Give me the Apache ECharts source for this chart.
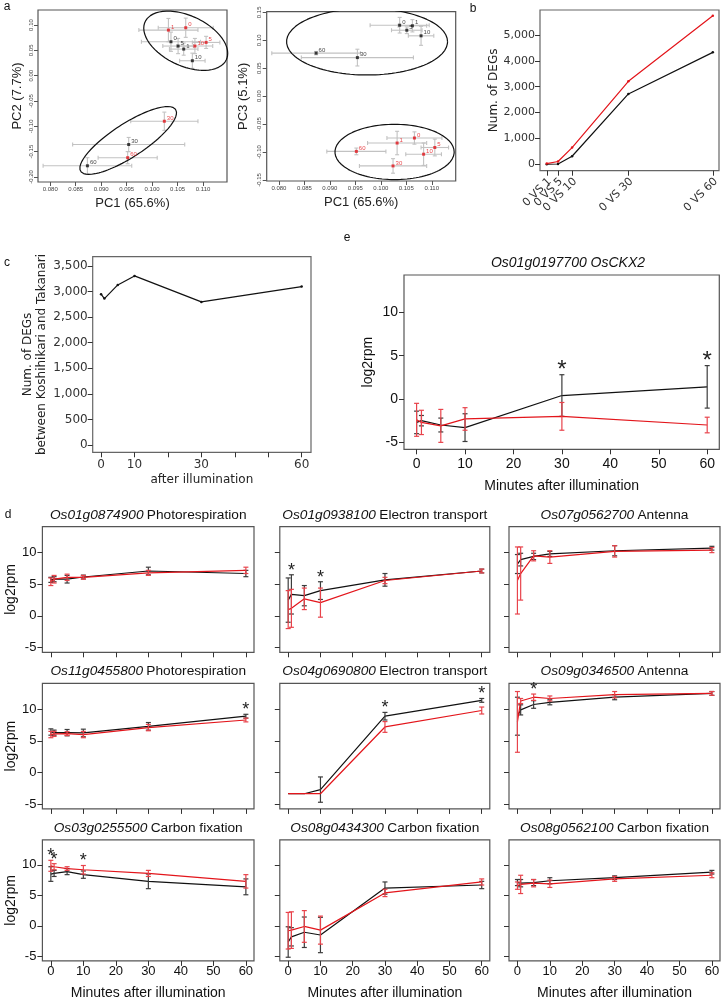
<!DOCTYPE html>
<html><head><meta charset="utf-8">
<script src="https://cdn.jsdelivr.net/npm/echarts@6/dist/echarts.min.js"></script>
<style>html,body{margin:0;padding:0;background:#fff}#c{width:722px;height:1003px}</style>
</head><body><div id="c"></div>
<script>
// ---------------- DATA ----------------
const timeLabels = ['0', '1', '5', '10', '30', '60'];
const minutes = [0, 1, 5, 10, 30, 60];

// panel a (PCA)
const pc1Kosh = [0.1037, 0.1062, 0.1051, 0.1079, 0.0954, 0.0873];
const pc1KoshSd = [0.0058, 0.0028, 0.0030, 0.0025, 0.0110, 0.0087];
const pc2Kosh = [0.067, 0.0525, 0.0585, 0.0295, -0.136, -0.178];
const pc2KoshSd = [0.019, 0.012, 0.015, 0.015, 0.014, 0.016];
const pc3Kosh = [0.127, 0.126, 0.118, 0.108, 0.069, 0.077];
const pc3KoshSd = [0.014, 0.011, 0.006, 0.017, 0.015, 0.003];
const pc1Taka = [0.1066, 0.1032, 0.1106, 0.1084, 0.1024, 0.0952];
const pc1TakaSd = [0.0054, 0.0058, 0.0027, 0.0035, 0.0066, 0.0058];
const pc2Taka = [0.0947, 0.090, 0.0657, 0.0585, -0.090, -0.162];
const pc2TakaSd = [0.019, 0.023, 0.012, 0.015, 0.018, 0.012];
const pc3Taka = [-0.075, -0.084, -0.092, -0.104, -0.125, -0.099];
const pc3TakaSd = [0.011, 0.021, 0.015, 0.020, 0.013, 0.006];
// ellipses: centre x, centre y, semi-axis u (dx, dy), semi-axis v (dx, dy)
const ellipsePC2 = [[0.1066, 0.069, 0.00797, -0.0376, -0.0021, -0.0448], [0.0953, -0.128, 0.00932, 0.0610, 0.00178, -0.0277]];
const ellipsePC3 = [[0.0973, 0.0975, 0.0158, 0, 0, 0.0596], [0.1027, -0.100, 0.0117, 0, 0, 0.0495]];
const aTicksX = [0.080, 0.085, 0.090, 0.095, 0.100, 0.105, 0.110];
const aTicksPC2 = [-0.20, -0.15, -0.10, -0.05, 0.00, 0.05, 0.10];
const aTicksPC3 = [-0.15, -0.10, -0.05, 0.00, 0.05, 0.10, 0.15];

// panel b
const bCompare = [1, 5, 10, 30, 60];
const bCompareLabels = ['0 VS 1', '0 VS 5', '0 VS 10', '0 VS 30', '0 VS 60'];
const bKosh = [0, 10, 310, 2720, 4330];
const bTaka = [25, 105, 645, 3210, 5750];
const bTicksY = [0, 1000, 2000, 3000, 4000, 5000];

// panel c
const cMinutes = [0, 1, 5, 10, 30, 60];
const cDegs = [2948, 2863, 3130, 3306, 2798, 3098];
const cTicksY = [0, 500, 1000, 1500, 2000, 2500, 3000, 3500];
const cTicksX = [0, 10, 20, 30, 40, 50, 60];
const cLabelsX = [0, 10, 30, 60];

// panel e
const eGene = 'Os01g0197700 OsCKX2';
const eKosh = [-2.7, -2.5, -3.0, -3.3, 0.4, 1.4];
const eKoshSd = [1.3, 0.6, 0.8, 1.6, 2.4, 2.45];
const eTaka = [-2.4, -2.7, -3.1, -2.3, -2.0, -3.0];
const eTakaSd = [1.9, 1.4, 1.9, 1.3, 1.6, 0.9];
const eStars = [30, 60];

// panel d
const dGenes = ['Os01g0874900', 'Os01g0938100', 'Os07g0562700', 'Os11g0455800', 'Os04g0690800', 'Os09g0346500', 'Os03g0255500', 'Os08g0434300', 'Os08g0562100'];
const dFunctions = ['Photorespiration', 'Electron transport', 'Antenna', 'Photorespiration', 'Electron transport', 'Antenna', 'Carbon fixation', 'Carbon fixation', 'Carbon fixation'];
const d1Kosh = [5.7, 5.8, 5.8, 6.15, 7.1, 6.7];      const d1KoshSd = [0.4, 0.4, 0.6, 0.3, 0.6, 0.5];
const d1Taka = [5.4, 5.8, 6.1, 6.1, 6.8, 7.2];       const d1TakaSd = [0.6, 0.6, 0.5, 0.3, 0.4, 0.5];
const d2Kosh = [2.5, 3.4, 3.2, 4.0, 5.7, 7.1];       const d2KoshSd = [3.5, 3.1, 1.6, 1.4, 1.0, 0.3];
const d2Taka = [1.0, 1.2, 2.7, 2.1, 5.6, 7.1];       const d2TakaSd = [3.0, 3.0, 1.7, 2.3, 0.5, 0.3];
const d3Kosh = [8.2, 8.9, 9.4, 9.8, 10.3, 10.7];     const d3KoshSd = [1.5, 1.0, 0.5, 0.4, 0.8, 0.3];
const d3Taka = [5.6, 6.7, 9.5, 9.3, 10.2, 10.4];     const d3TakaSd = [5.3, 4.2, 0.8, 1.0, 0.9, 0.4];
const d4Kosh = [6.4, 6.3, 6.3, 6.25, 7.3, 8.9];      const d4KoshSd = [0.5, 0.4, 0.5, 0.6, 0.6, 0.3];
const d4Taka = [6.0, 6.1, 6.15, 6.0, 7.1, 8.3];      const d4TakaSd = [0.5, 0.4, 0.3, 0.5, 0.5, 0.3];
const d5Kosh = [-3.35, -3.35, -3.35, -2.7, 8.9, 11.4]; const d5KoshSd = [0, 0, 0, 2.0, 0.6, 0.3];
const d5Taka = [-3.35, -3.35, -3.35, -3.35, 7.2, 9.8]; const d5TakaSd = [0, 0, 0, 0, 0.85, 0.55];
const d6Kosh = [8.9, 9.9, 10.75, 11.1, 11.9, 12.5];  const d6KoshSd = [3.0, 0.8, 0.6, 0.4, 0.4, 0.3];
const d6Taka = [8.0, 11.3, 11.9, 11.7, 12.3, 12.5];  const d6TakaSd = [4.8, 0.4, 0.5, 0.4, 0.5, 0.3];
const d7Kosh = [8.5, 8.6, 8.9, 8.4, 7.3, 6.4];       const d7KoshSd = [1.2, 0.5, 0.5, 0.6, 1.2, 1.3];
const d7Taka = [9.85, 9.7, 9.4, 9.2, 8.6, 7.3];      const d7TakaSd = [0.9, 0.5, 0.3, 0.7, 0.5, 1.1];
const d8Kosh = [-2.65, -1.8, -1.05, -1.5, 6.2, 6.7]; const d8KoshSd = [2.5, 1.5, 2.5, 2.9, 1.0, 0.6];
const d8Taka = [-0.8, -0.7, -0.1, -0.7, 5.4, 7.2];   const d8TakaSd = [3.0, 3.0, 2.6, 2.3, 0.6, 0.5];
const d9Kosh = [7.1, 7.0, 7.1, 7.4, 7.9, 8.8];       const d9KoshSd = [0.5, 0.6, 0.5, 0.5, 0.3, 0.3];
const d9Taka = [6.6, 6.8, 7.0, 6.9, 7.7, 8.3];       const d9TakaSd = [0.6, 1.5, 0.6, 0.6, 0.4, 0.4];
const d1Stars = [], d2Stars = [1, 10], d3Stars = [], d4Stars = [60], d5Stars = [30, 60], d6Stars = [5], d7Stars = [0, 1, 10], d8Stars = [], d9Stars = [];
const logTicksY = [-5, 0, 5, 10];
const minuteTicks = [0, 10, 20, 30, 40, 50, 60];

// ---------------- STYLE / BUILD ----------------
const FA = 'Liberation Sans, Arial, sans-serif';
const FV = 'DejaVu Sans, Verdana, sans-serif';
const BLACK = '#111', RED = '#e3151b', BLACK_ERR = '#3c3c3c', RED_ERR = '#e8434b', GREY_ERR = '#c2c2c2';

const chart = echarts.init(document.getElementById('c'), null, {renderer: 'canvas', width: 722, height: 1003});
const grids = [], xAxes = [], yAxes = [], series = [], graphics = [];

function addGrid(l, t, w, h, color) {
  grids.push({left: l, top: t, width: w, height: h, show: true, borderColor: color || '#555', borderWidth: 1.2, outerBoundsMode: 'none'});
  return grids.length - 1;
}
function errBars(g, xs, ys, es, color, cap, z) {
  return {type: 'custom', xAxisIndex: g, yAxisIndex: g, silent: true, z: z || 3,
    data: xs.map((x, i) => [x, ys[i], es[i]]),
    renderItem: (p, api) => {
      const x = api.value(0), y = api.value(1), e = api.value(2);
      if (!e) return null;
      const a = api.coord([x, y + e]), b = api.coord([x, y - e]);
      const st = {stroke: color, lineWidth: 1.2};
      return {type: 'group', children: [
        {type: 'line', shape: {x1: a[0], y1: a[1], x2: b[0], y2: b[1]}, style: st},
        {type: 'line', shape: {x1: a[0] - cap, y1: a[1], x2: a[0] + cap, y2: a[1]}, style: st},
        {type: 'line', shape: {x1: b[0] - cap, y1: b[1], x2: b[0] + cap, y2: b[1]}, style: st}]};
    }};
}
function xyErrBars(g, xs, ys, exs, eys) {
  return {type: 'custom', xAxisIndex: g, yAxisIndex: g, silent: true, z: 2,
    data: xs.map((x, i) => [x, ys[i], exs[i], eys[i]]),
    renderItem: (p, api) => {
      const x = api.value(0), y = api.value(1), ex = api.value(2), ey = api.value(3);
      const l = api.coord([x - ex, y]), r = api.coord([x + ex, y]), t = api.coord([x, y + ey]), b = api.coord([x, y - ey]);
      const st = {stroke: GREY_ERR, lineWidth: 1.1}, c = 2;
      const L = (x1, y1, x2, y2) => ({type: 'line', shape: {x1, y1, x2, y2}, style: st});
      return {type: 'group', children: [
        L(l[0], l[1], r[0], r[1]), L(l[0], l[1] - c, l[0], l[1] + c), L(r[0], r[1] - c, r[0], r[1] + c),
        L(t[0], t[1], b[0], b[1]), L(t[0] - c, t[1], t[0] + c, t[1]), L(b[0] - c, b[1], b[0] + c, b[1])]};
    }};
}
function starSeries(g, pts, size, gap) {
  return {type: 'custom', xAxisIndex: g, yAxisIndex: g, silent: true, z: 5,
    data: pts,
    renderItem: (p, api) => {
      const c = api.coord([api.value(0), api.value(1)]);
      return {type: 'text', x: c[0], y: c[1] - gap, style: {text: '*', fontSize: size, fontFamily: FA, fill: '#222', align: 'center', verticalAlign: 'middle'}};
    }};
}
function ellipsePts(p) {
  const [cx, cy, ux, uy, vx, vy] = p, pts = [];
  for (let i = 0; i <= 120; i++) { const t = i / 120 * 2 * Math.PI; pts.push([cx + ux * Math.cos(t) + vx * Math.sin(t), cy + uy * Math.cos(t) + vy * Math.sin(t)]); }
  return pts;
}
function label(x, y, text, size, font, extra) {
  graphics.push({type: 'text', x, y, silent: true, style: Object.assign({text, fontSize: size, fontFamily: font, fill: '#111', align: 'center', verticalAlign: 'middle'}, extra || {})});
}

// ---- panel a ----
function pcaPanel(rect, pcY, pcYSdK, pcYT, pcYSdT, ymin, ymax, ticksY, yName, ellipses, nameGapY) {
  const g = addGrid(rect[0], rect[1], rect[2], rect[3], '#555');
  xAxes.push({gridIndex: g, type: 'value', min: 0.0776, max: 0.1147, axisLine: {show: false, onZero: false}, splitLine: {show: false},
    axisTick: {show: true, length: 4, customValues: aTicksX, lineStyle: {color: '#555'}},
    axisLabel: {customValues: aTicksX, fontSize: 6, color: '#444', margin: 4, fontFamily: FA, formatter: v => v.toFixed(3)},
    name: 'PC1 (65.6%)', nameLocation: 'middle', nameGap: 15, nameTextStyle: {fontSize: 13, color: '#222', fontFamily: FA}});
  yAxes.push({gridIndex: g, type: 'value', min: ymin, max: ymax, axisLine: {show: false, onZero: false}, splitLine: {show: false},
    axisTick: {show: true, length: 4, customValues: ticksY, lineStyle: {color: '#555'}},
    axisLabel: {customValues: ticksY, fontSize: 6, color: '#444', margin: 4, rotate: 90, fontFamily: FA, formatter: v => v.toFixed(2)},
    name: yName, nameLocation: 'middle', nameGap: nameGapY, nameTextStyle: {fontSize: 13, color: '#222', fontFamily: FA}});
  series.push(xyErrBars(g, pc1Kosh, pcY, pc1KoshSd, pcYSdK));
  series.push(xyErrBars(g, pc1Taka, pcYT, pc1TakaSd, pcYSdT));
  ellipses.forEach(e => series.push({type: 'line', xAxisIndex: g, yAxisIndex: g, data: ellipsePts(e), showSymbol: false, symbol: 'none', silent: true, z: 3, lineStyle: {color: '#111', width: 1.2}}));
  [[pc1Kosh, pcY, '#111'], [pc1Taka, pcYT, RED]].forEach(([xs, ys, col]) => {
    series.push({type: 'scatter', xAxisIndex: g, yAxisIndex: g, symbol: 'rect', symbolSize: 3, z: 4,
      itemStyle: {color: col},
      data: xs.map((x, i) => [x, ys[i], timeLabels[i]]),
      label: {show: true, position: 'right', distance: 1, offset: [0, -3], fontSize: 6, color: col, fontFamily: FA, formatter: p => p.value[2]}});
  });
}
pcaPanel([38, 10, 189, 172], pc2Kosh, pc2KoshSd, pc2Taka, pc2TakaSd, -0.21, 0.1297, aTicksPC2, 'PC2 (7.7%)', ellipsePC2, 14);
pcaPanel([266.7, 11.7, 189, 169.3], pc3Kosh, pc3KoshSd, pc3Taka, pc3TakaSd, -0.152, 0.1512, aTicksPC3, 'PC3 (5.1%)', ellipsePC3, 17);

// ---- panel b ----
(function () {
  const g = addGrid(540, 10, 179, 160.7, '#666');
  const bMin = -250;
  xAxes.push({gridIndex: g, type: 'value', min: -1.4, max: 62.2, axisLine: {show: false, onZero: false}, splitLine: {show: false},
    axisTick: {show: true, length: 5, customValues: bCompare, lineStyle: {color: '#333'}},
    axisLabel: {show: false}});
  yAxes.push({gridIndex: g, type: 'value', min: bMin, max: 5970, axisLine: {show: false, onZero: false}, splitLine: {show: false},
    axisTick: {show: true, length: 5, customValues: bTicksY, lineStyle: {color: '#333'}},
    axisLabel: {customValues: bTicksY, fontSize: 11, color: '#333', margin: 5, fontFamily: FV, formatter: v => v.toLocaleString('en-US')},
    name: 'Num. of DEGs', nameLocation: 'middle', nameGap: 35, nameTextStyle: {fontSize: 12, color: '#222', fontFamily: FV}});
  [[bKosh, BLACK], [bTaka, RED]].forEach(([ys, col]) => series.push({type: 'line', xAxisIndex: g, yAxisIndex: g,
    data: bCompare.map((x, i) => [x, ys[i]]), symbol: 'circle', symbolSize: 2.5, showSymbol: true,
    itemStyle: {color: col}, lineStyle: {color: col, width: 1.2}}));
  // rotated category labels (all shown, overlapping as in the original)
  series.push({type: 'custom', xAxisIndex: g, yAxisIndex: g, silent: true, clip: false, z: 5,
    data: bCompare.map((x, i) => [x, bMin, i]),
    renderItem: (p, api) => {
      const c = api.coord([api.value(0), api.value(1)]);
      return {type: 'text', x: c[0] + 3, y: c[1] + 9, rotation: Math.PI / 4,
        style: {text: bCompareLabels[api.value(2)], fontSize: 11, fontFamily: FV, fill: '#333', align: 'right', verticalAlign: 'middle'}};
    }});
})();

// ---- panel c ----
(function () {
  const g = addGrid(92.7, 256.7, 218.3, 195.6, '#666');
  xAxes.push({gridIndex: g, type: 'value', min: -2.5, max: 62.8, axisLine: {show: false, onZero: false}, splitLine: {show: false},
    axisTick: {show: true, length: 5, customValues: cTicksX, lineStyle: {color: '#333'}},
    axisLabel: {customValues: cLabelsX, fontSize: 12, color: '#333', margin: 7, fontFamily: FV},
    name: 'after illumination', nameLocation: 'middle', nameGap: 22, nameTextStyle: {fontSize: 12, color: '#222', fontFamily: FV}});
  yAxes.push({gridIndex: g, type: 'value', min: -143, max: 3682, axisLine: {show: false, onZero: false}, splitLine: {show: false},
    axisTick: {show: true, length: 5, customValues: cTicksY, lineStyle: {color: '#333'}},
    axisLabel: {customValues: cTicksY, fontSize: 12, color: '#333', margin: 5, fontFamily: FV, formatter: v => v.toLocaleString('en-US')},
    name: 'Num. of DEGs\nbetween Koshihikari and Takanari', nameLocation: 'middle', nameGap: 44, nameTextStyle: {fontSize: 12, lineHeight: 14, color: '#222', fontFamily: FV}});
  series.push({type: 'line', xAxisIndex: g, yAxisIndex: g, data: cMinutes.map((x, i) => [x, cDegs[i]]), symbol: 'circle', symbolSize: 2.5,
    itemStyle: {color: BLACK}, lineStyle: {color: BLACK, width: 1.2}});
})();

// ---- time-course panels (d, e) ----
function timePanel(rect, k, ks, t, ts, stars, opts) {
  const g = addGrid(rect[0], rect[1], rect[2], rect[3], '#555');
  xAxes.push({gridIndex: g, type: 'value', min: -2.6, max: 62.5, axisLine: {show: false, onZero: false}, splitLine: {show: false},
    axisTick: {show: true, length: 5, customValues: minuteTicks, lineStyle: {color: '#333'}},
    axisLabel: {show: opts.xLabels, customValues: minuteTicks, showMinLabel: true, showMaxLabel: true, fontSize: opts.fs, color: '#111', margin: opts.xMargin || 6, fontFamily: FA},
    name: opts.xLabels ? 'Minutes after illumination' : '', nameLocation: 'middle', nameGap: opts.xGap, nameTextStyle: {fontSize: 14, color: '#111', fontFamily: FA}});
  yAxes.push({gridIndex: g, type: 'value', min: opts.ymin, max: opts.ymax, axisLine: {show: false, onZero: false}, splitLine: {show: false},
    axisTick: {show: true, length: 5, customValues: logTicksY, lineStyle: {color: '#333'}},
    axisLabel: {show: opts.yLabels, customValues: logTicksY, showMinLabel: true, showMaxLabel: true, fontSize: opts.fs, color: '#111', margin: 6, fontFamily: FA},
    name: opts.yLabels ? 'log2rpm' : '', nameLocation: 'middle', nameGap: opts.yGap, nameTextStyle: {fontSize: 14, color: '#111', fontFamily: FA}});
  series.push({type: 'line', xAxisIndex: g, yAxisIndex: g, data: minutes.map((m, i) => [m, k[i]]), symbol: 'none', z: 2, lineStyle: {color: BLACK, width: 1.2}});
  series.push(errBars(g, minutes, k, ks, BLACK_ERR, 2.5, 3));
  series.push({type: 'line', xAxisIndex: g, yAxisIndex: g, data: minutes.map((m, i) => [m, t[i]]), symbol: 'none', z: 3, lineStyle: {color: RED, width: 1.2}});
  series.push(errBars(g, minutes, t, ts, RED_ERR, 2.5, 4));
  const pts = stars.map(m => { const i = minutes.indexOf(m); return [m, Math.max(k[i] + ks[i], t[i] + ts[i])]; });
  series.push(starSeries(g, pts, opts.starSize, opts.starGap));
}

// panel e
timePanel([404, 275, 315.3, 174.3], eKosh, eKoshSd, eTaka, eTakaSd, eStars,
  {xLabels: true, yLabels: true, fs: 14, ymin: -5.8, ymax: 14.3, xGap: 30, yGap: 29, starSize: 24, starGap: 4, xMargin: 8});
graphics.push({type: 'text', x: 568, y: 263, silent: true, style: {text: eGene, fontSize: 14, fontStyle: 'italic', fontFamily: FA, fill: '#111', align: 'center', verticalAlign: 'middle'}});

// panel d
const dK = [d1Kosh, d2Kosh, d3Kosh, d4Kosh, d5Kosh, d6Kosh, d7Kosh, d8Kosh, d9Kosh];
const dKs = [d1KoshSd, d2KoshSd, d3KoshSd, d4KoshSd, d5KoshSd, d6KoshSd, d7KoshSd, d8KoshSd, d9KoshSd];
const dT = [d1Taka, d2Taka, d3Taka, d4Taka, d5Taka, d6Taka, d7Taka, d8Taka, d9Taka];
const dTs = [d1TakaSd, d2TakaSd, d3TakaSd, d4TakaSd, d5TakaSd, d6TakaSd, d7TakaSd, d8TakaSd, d9TakaSd];
const dS = [d1Stars, d2Stars, d3Stars, d4Stars, d5Stars, d6Stars, d7Stars, d8Stars, d9Stars];
const colL = [42.4, 279.8, 509], colW = [211.6, 210, 211];
const rowT = [526.7, 683.3, 839.9], rowH = [125.6, 125.6, 121], titleY = [515, 671, 828];
for (let i = 0; i < 9; i++) {
  const r = Math.floor(i / 3), c = i % 3;
  timePanel([colL[c], rowT[r], colW[c], rowH[r]], dK[i], dKs[i], dT[i], dTs[i], dS[i],
    {xLabels: r === 2, yLabels: c === 0, fs: 13, ymin: -5.75, ymax: 14.1, xGap: 25, yGap: 24, starSize: 18, starGap: 4, xMargin: 4});
  graphics.push({type: 'text', x: colL[c] + colW[c] / 2, y: titleY[r], silent: true,
    style: {text: '{i|' + dGenes[i] + '} {n|' + dFunctions[i] + '}', align: 'center', verticalAlign: 'middle',
      rich: {i: {fontSize: 13.7, fontStyle: 'italic', fontFamily: FA, fill: '#111'}, n: {fontSize: 13.7, fontFamily: FA, fill: '#111'}}}});
}

// panel letters
label(7, 7, 'a', 12, FA);
label(473, 9, 'b', 12, FA);
label(7, 263, 'c', 12, FA);
label(347, 238, 'e', 12, FA);
label(8, 515, 'd', 12, FA);

chart.setOption({animation: false, grid: grids, xAxis: xAxes, yAxis: yAxes, series, graphic: graphics});
</script></body></html>
